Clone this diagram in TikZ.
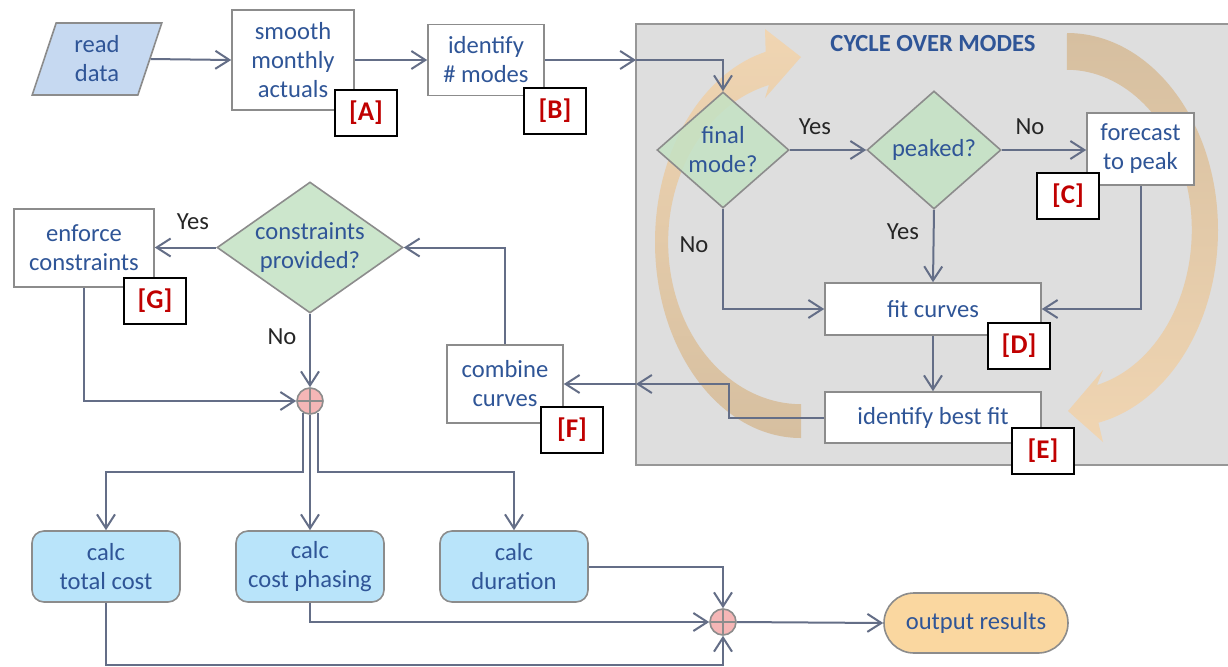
\documentclass[tikz,border=0pt]{standalone}
\usepackage{fontspec}
\setmainfont{Carlito}
\usetikzlibrary{shapes.geometric,arrows.meta,calc}
\definecolor{txtblue}{RGB}{47,85,151}
\definecolor{conncol}{RGB}{100,110,135}
\definecolor{boxline}{RGB}{140,140,140}
\definecolor{labred}{RGB}{192,0,0}
\definecolor{panelgray}{RGB}{222,222,222}
\definecolor{diagreen}{RGB}{196,226,196}
\definecolor{readblue}{RGB}{198,217,241}
\definecolor{calcblue}{RGB}{185,228,250}
\definecolor{outorange}{RGB}{250,215,160}
\definecolor{jpink}{RGB}{245,182,182}
\definecolor{arcA}{RGB}{240,213,178}
\definecolor{arcB}{RGB}{214,191,160}
\begin{document}
\begin{tikzpicture}[x=0.5pt,y=-0.5pt,
  txt/.style={font=\fontsize{12.3}{14.5}\selectfont, text=txtblue, align=center},
  box/.style={txt, draw=boxline, line width=0.8pt, fill=white, inner sep=0pt},
  lab/.style={draw=black, line width=1.1pt, fill=white, font=\fontsize{13.5}{15}\selectfont\bfseries, text=labred, minimum width=31pt, minimum height=23pt, inner sep=0pt},
  dia/.style={shape=diamond, draw=boxline, line width=0.8pt, fill=diagreen, fill opacity=0.85, inner sep=0pt},
  calcbox/.style={box, fill=calcblue, rounded corners=6pt, minimum width=74pt, minimum height=35.5pt},
  junc/.style={circle, draw=boxline, line width=0.8pt, fill=jpink, minimum size=13pt, inner sep=0pt,
    path picture={\draw[boxline, line width=0.6pt] (path picture bounding box.north) -- (path picture bounding box.south) (path picture bounding box.west) -- (path picture bounding box.east);}},
  conn/.style={draw=conncol, line width=1pt, -{Straight Barb[length=7pt,width=9pt]}},
  plainline/.style={draw=conncol, line width=1pt},
  yn/.style={font=\fontsize{12.3}{14.5}\selectfont, text=black!85}
]
\useasboundingbox (0,0) rectangle (1228,666);
\fill[white] (0,0) rectangle (1228,666);

% panel
\draw[fill=panelgray, draw=boxline!90, line width=0.8pt] (636,24) rectangle (1229,465);
\node[font=\fontsize{12.3}{14.5}\selectfont\bfseries, text=txtblue] (title) at (933,44) {CYCLE OVER MODES};

% cycle arrows
\shade[top color=arcA, bottom color=arcB] (801,438) arc[start angle=90, end angle=256, x radius=146, y radius=196]
  -- (765,29) -- (801,57) -- (765,98) -- (769,85)
  arc[start angle=256, end angle=90, x radius=133, y radius=162] -- cycle;
\shade[top color=arcB, bottom color=arcA] (1067,33) arc[start angle=270, end angle=438, x radius=151, y radius=197]
  -- (1103,442) -- (1068,411) -- (1103,370) -- (1097,385)
  arc[start angle=436, end angle=270, x radius=125, y radius=160] -- cycle;

% top row
\node[txt, shape=trapezium, trapezium left angle=74, trapezium right angle=106, trapezium stretches=true,
  minimum width=65pt, minimum height=36pt, draw=boxline, line width=0.8pt, fill=readblue, inner sep=0pt] (read) at (97,59) {read\\data};
\node[box, minimum width=61pt, minimum height=50pt] (smooth) at (293,60) {smooth\\monthly\\actuals};
\node[lab] (labA) at (366,113) {[A]};
\node[box, minimum width=58pt, minimum height=35.5pt] (ident) at (486,60) {identify\\\# modes};
\node[lab] (labB) at (555,111) {[B]};

% inside panel
\node[dia, minimum width=66pt, minimum height=58pt, label={[txt]center:final\\mode?}] (final) at (723,150) {};
\node[dia, minimum width=67pt, minimum height=59pt, label={[txt]center:peaked?}] (peaked) at (934,150) {};
\node[box, minimum width=53.5pt, minimum height=36pt] (fore) at (1140.5,149) {forecast\\to peak};
\node[lab] (labC) at (1068,196) {[C]};
\node[box, minimum width=108pt, minimum height=26pt] (fit) at (933,309) {fit curves};
\node[lab] (labD) at (1019,346) {[D]};
\node[box, minimum width=108pt, minimum height=25.5pt] (best) at (933,417.5) {identify best fit};
\node[lab] (labE) at (1043,451) {[E]};
\coordinate (pin) at (636,60);
\coordinate (pout) at (636,384);

% left middle
\node[dia, minimum width=93pt, minimum height=65.5pt, label={[txt]center:constraints\\provided?}] (cons) at (310,247.5) {};
\node[box, minimum width=70pt, minimum height=39pt] (enf) at (84,248) {enforce\\constraints};
\node[lab] (labG) at (155,301) {[G]};
\node[box, minimum width=58pt, minimum height=39pt] (comb) at (505,384) {combine\\curves};
\node[lab] (labF) at (572,430) {[F]};
\node[junc] (j1) at (310,401) {};

% bottom row
\node[calcbox] (total) at (106,566.5) {calc\\total cost};
\node[calcbox] (phase) at (310,566.5) {calc\\cost phasing};
\node[calcbox] (dur) at (514,566.5) {calc\\duration};
\node[junc] (j2) at (723,622) {};
\node[box, fill=outorange, rounded corners=15pt, minimum width=92pt, minimum height=30pt] (out) at (976,623) {output results};

% connectors
\draw[conn] (read.east) -- (smooth.west);
\draw[conn] (smooth.east) -- (smooth.east -| ident.west);
\draw[conn] (ident.east) -- (pin);
\draw[conn] (pin) -| (final.north);
\draw[conn] (final.east) -- (peaked.west);
\draw[conn] (peaked.east) -- (peaked.east -| fore.west);
\draw[conn] (peaked.south) -- (fit.north);
\draw[conn] (final.south) |- (fit.west);
\draw[conn] (fore.south) |- (fit.east);
\draw[conn] (fit.south) -- (best.north);
\draw[conn] (best.west) -- ++(-95,0) |- (pout);
\draw[conn] (pout) -- (comb.east);
\draw[conn] (comb.north) |- (cons.east);
\draw[conn] (cons.west) -- (cons.west -| enf.east);
\draw[conn] (cons.south) -- (j1.north);
\draw[conn] (enf.south) |- (j1.west);
\draw[conn] (j1.-122.6) -- ++(0,59) -| (total.north);
\draw[conn] (j1.south) -- (phase.north);
\draw[conn] (j1.-57.4) -- ++(0,59) -| (dur.north);
\draw[conn] (dur.east) -| (j2.north);
\draw[conn] (phase.south) |- (j2.west);
\draw[conn] (total.south) -- ++(0,62) -| (j2.south);
\draw[conn] (j2.east) -- (out.west);

% yes / no labels
\node[yn] (y1) at (815,127) {Yes};
\node[yn] (n1) at (1030,127) {No};
\node[yn] (y2) at (903,232) {Yes};
\node[yn] (n2) at (694,245) {No};
\node[yn] (y3) at (193,222) {Yes};
\node[yn] (n3) at (282,337) {No};
\end{tikzpicture}
\end{document}
